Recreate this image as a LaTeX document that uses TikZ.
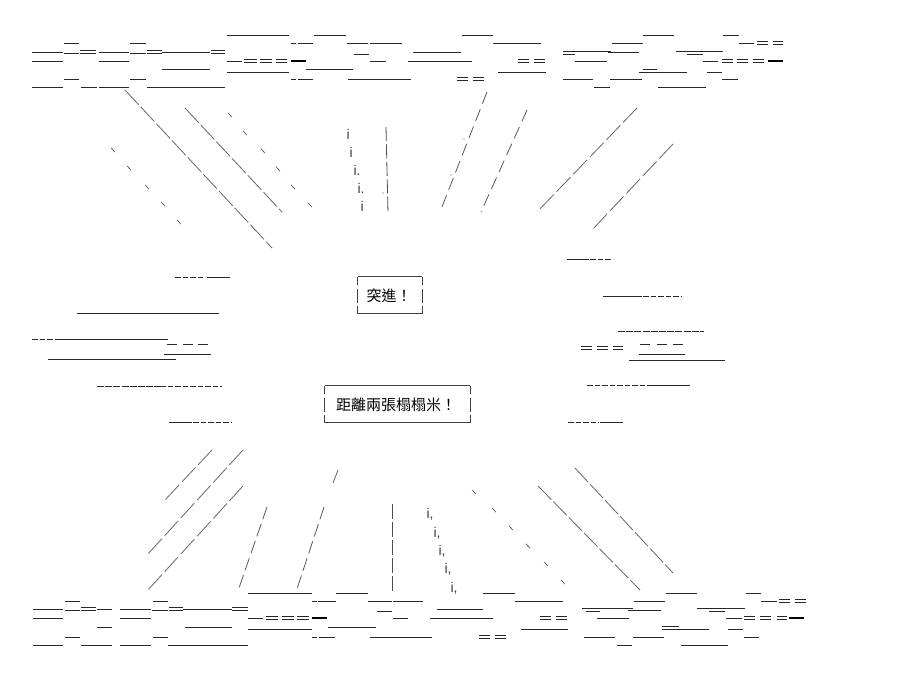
\documentclass[tikz,border=0pt]{standalone}
\usepackage{fontspec}
\newfontfamily\cjkfont{Noto Sans CJK TC}
\newfontfamily\aafont{Liberation Sans}
\begin{document}
\begin{tikzpicture}[x=1pt,y=-1pt,
  ul/.style={black!85,line width=0.8pt},
  thk/.style={black,line width=2.2pt},
  dsh/.style={black!85,line width=0.8pt,dash pattern=on 5.5pt off 2pt},
  ldsh/.style={black!85,line width=0.8pt,dash pattern=on 7pt off 1.2pt},
  diag/.style={black!60,line width=0.8pt,dash pattern=on 20pt off 3pt},
  steep/.style={black!65,line width=0.8pt,dash pattern=on 12.5pt off 6pt},
  vbar/.style={black!70,line width=0.8pt,dash pattern=on 14pt off 3.5pt},
  tick/.style={black!60,line width=0.8pt},
  txt/.style={inner sep=0pt,font=\cjkfont\fontsize{15pt}{18pt}\selectfont},
  ich/.style={inner sep=0pt,anchor=base west,text=black!75,font=\aafont\fontsize{14pt}{16pt}\selectfont},
  frame/.style={draw=none,inner sep=0pt},
  boxh/.style={black!75,line width=0.7pt},
  boxv/.style={black!75,line width=0.7pt,dash pattern=on 8pt off 4pt on 14pt off 3pt on 7pt off 0pt}]
\fill[white] (0,0) rectangle (905,676);
\useasboundingbox (0,0) rectangle (905,676);

% ---------- top band ----------
\foreach \a/\b/\y in {227/289/35.5, 314/346/35.5, 462/493/35.5, 643/674/35.5, 723/739/35.5,
 64/79/43, 130/146/43, 291/296/43, 298/313/43, 347/368/43, 370/402/43, 493/541/43, 612/643/43, 739/754/43,
 32/63/52, 64/79/53, 99/129/52, 130/146/53, 162/210/52, 413/461/52, 563/611/51, 608/639/52.5, 676/723/51,
 563/575/54, 687/703/54, 354/369/54,
 32/63/61, 99/129/61, 227/242/61, 370/386/61, 408/472/61, 575/607/61, 703/718/61,
 162/210/69, 306/353/69, 643/657/69,
 227/289/72, 498/546/72, 639/687/72, 707/722/72,
 64/79/79, 130/146/79, 291/296/79, 298/313/79, 348/411/79, 563/593/79, 610/642/79, 722/738/79,
 32/63/87, 81/97/87, 99/129/87, 147/225/87, 594/610/87, 658/706/87}
 \draw[ul] (\a,\y) -- (\b,\y);
\foreach \a/\b/\y in {80/96/52, 147/162/52, 211/225/52, 757/768/43, 773/783/43,
 244/257/61, 260/272/61, 276/287/61, 518/529/61, 534/545/61, 722/733/61, 737/748/61, 753/764/61,
 457/468/79, 473/484/79}
 \draw[ul] (\a,\y-1.5) -- (\b,\y-1.5) (\a,\y+1.5) -- (\b,\y+1.5);
\foreach \a/\b/\y in {291/306/61, 768/783/61}
 \draw[thk] (\a,\y) -- (\b,\y);

% ---------- bottom band ----------
\foreach \a/\b/\y in {248/312/593, 336/368/593, 483/515/593, 666/697/593, 746/761/593,
 65/80/601, 153/168/601, 312/317/601, 318/336/601, 368/392/601, 393/423/601, 515/563/601, 634/665/601, 761/777/601,
 33/63/609, 65/80/610, 97/112/609, 120/151/609, 152/168/610, 183/232/609, 437/483/609, 582/633/608, 628/661/610, 697/745/608,
 377/392/611, 586/600/611, 709/725/611,
 33/63/618, 120/151/618, 248/263/618, 393/408/618, 430/493/618, 597/629/618, 726/742/618,
 97/112/627, 185/232/627, 328/376/627, 662/679/626,
 248/312/629, 521/568/629, 662/709/629, 728/743/629,
 65/80/637, 153/168/637, 312/317/637, 319/335/637, 370/432/637, 584/615/637, 633/664/637, 744/759/637,
 33/63/645, 81/112/645, 120/151/645, 168/248/645, 617/632/645, 681/728/645}
 \draw[ul] (\a,\y) -- (\b,\y);
\foreach \a/\b/\y in {81/96/609, 169/183/609, 232/248/609, 779/790/601, 795/806/601,
 266/278/618, 282/294/618, 297/309/618, 540/551/618, 556/567/618, 744/755/618, 760/771/618, 777/787/618,
 479/490/637, 495/506/637}
 \draw[ul] (\a,\y-1.5) -- (\b,\y-1.5) (\a,\y+1.5) -- (\b,\y+1.5);
\foreach \a/\b/\y in {312/327/618, 789/804/618}
 \draw[thk] (\a,\y) -- (\b,\y);

% ---------- middle side strokes ----------
\foreach \a/\b/\y in {207/230/277, 77/219/313, 57/168/339, 167/177/344, 183/193/344, 198/208/344,
 164/211/354, 48/176/359, 169/192/422,
 567/589/259, 603/642/296, 640/650/344, 657/667/344, 673/683/344, 639/685/354, 629/725/360,
 649/690/385, 600/623/422}
 \draw[ul] (\a,\y) -- (\b,\y);
\foreach \a/\b/\y in {175/205/277, 32/57/339, 160/222/386, 193/231/422,
 590/612/259, 643/681/296, 587/649/385, 568/599/422}
 \draw[dsh] (\a,\y) -- (\b,\y);
\foreach \a/\b/\y in {97/160/386, 618/704/331}
 \draw[ldsh] (\a,\y) -- (\b,\y);
\foreach \a/\b/\y in {581/592/348, 597/608/348, 613/623/348}
 \draw[ul] (\a,\y-1.5) -- (\b,\y-1.5) (\a,\y+1.5) -- (\b,\y+1.5);

% ---------- top-left rays ----------
\draw[diag] (125,90) -- (272,248);
\draw[diag] (185,108) -- (282,212);
\foreach \x/\y in {230/115, 245/133, 263/151, 278/169, 293/187, 310/205,
 113/150, 129/168, 147/187, 163/204, 179/222}
 \draw[tick] (\x-2,\y-2.2) -- (\x+2,\y+2.2);
\draw[vbar] (386,127) -- (388,213);
\fill[black!70] (383,193) circle (0.7);
\node[ich] (ia) at (346.4,140) {i};
\node[ich] (ib) at (349.4,158) {i};
\node[ich] (ic) at (353.4,176) {i.};
\node[ich] (id) at (357.4,194) {i.};
\node[ich] (ie) at (360.4,212) {i};

% ---------- top-right rays ----------
\draw[steep] (487,92) -- (440,212);
\draw[steep] (527,110) -- (481,212);
\fill[black!70] (464,139) circle (0.7) (451,175) circle (0.7);
\draw[diag,dash pattern=on 20pt off 4pt] (637,108) -- (537,212);
\draw[diag,dash pattern=on 20pt off 4pt] (673,144) -- (592,230);

% ---------- boxes and texts ----------
\node[frame,minimum width=64pt,minimum height=36pt] (b1) at (390,295) {};
\node[txt] (t1) at (389,296) {突進！};
\draw[boxh] (b1.north west) -- (b1.north east);
\draw[boxh] (b1.south west) -- (b1.south east);
\draw[boxv] (b1.north west) -- (b1.south west);
\draw[boxv] (b1.north east) -- (b1.south east);
\node[frame,minimum width=145pt,minimum height=36pt] (b2) at (397.5,404) {};
\node[txt] (t2) at (396,405) {距離兩張榻榻米！};
\draw[boxh] (b2.north west) -- (b2.north east);
\draw[boxh] (b2.south west) -- (b2.south east);
\draw[boxv] (b2.north west) -- (b2.south west);
\draw[boxv] (b2.north east) -- (b2.south east);

% ---------- bottom-left rays ----------
\draw[diag,dash pattern=on 20pt off 4pt] (212,450) -- (164,501);
\draw[diag,dash pattern=on 20pt off 4pt] (243,450) -- (147,555);
\draw[diag,dash pattern=on 20pt off 4pt] (243,486) -- (147,591);
\draw[tick] (338,470) -- (333,483);
\draw[steep,dash pattern=on 13pt off 5pt] (267,507) -- (239,588);
\draw[steep,dash pattern=on 13pt off 5pt] (324,507) -- (296,592);
\draw[vbar,dash pattern=on 15pt off 3pt] (392,504) -- (392,592);
\node[ich] (ja) at (426.4,518) {i,};
\node[ich] (jb) at (433.4,537) {i,};
\node[ich] (jc) at (438.4,555) {i,};
\node[ich] (jd) at (444.4,573) {i,};
\node[ich] (je) at (450.4,592) {i,};

% ---------- bottom-right rays ----------
\foreach \x/\y in {474/492, 494/510, 511/528, 528/546, 546/564, 563/582}
 \draw[tick] (\x-2,\y-2.2) -- (\x+2,\y+2.2);
\draw[diag,dash pattern=on 19pt off 3pt] (538,486) -- (640,590);
\draw[diag,dash pattern=on 19pt off 3pt] (575,468) -- (673,573);
\end{tikzpicture}
\end{document}
